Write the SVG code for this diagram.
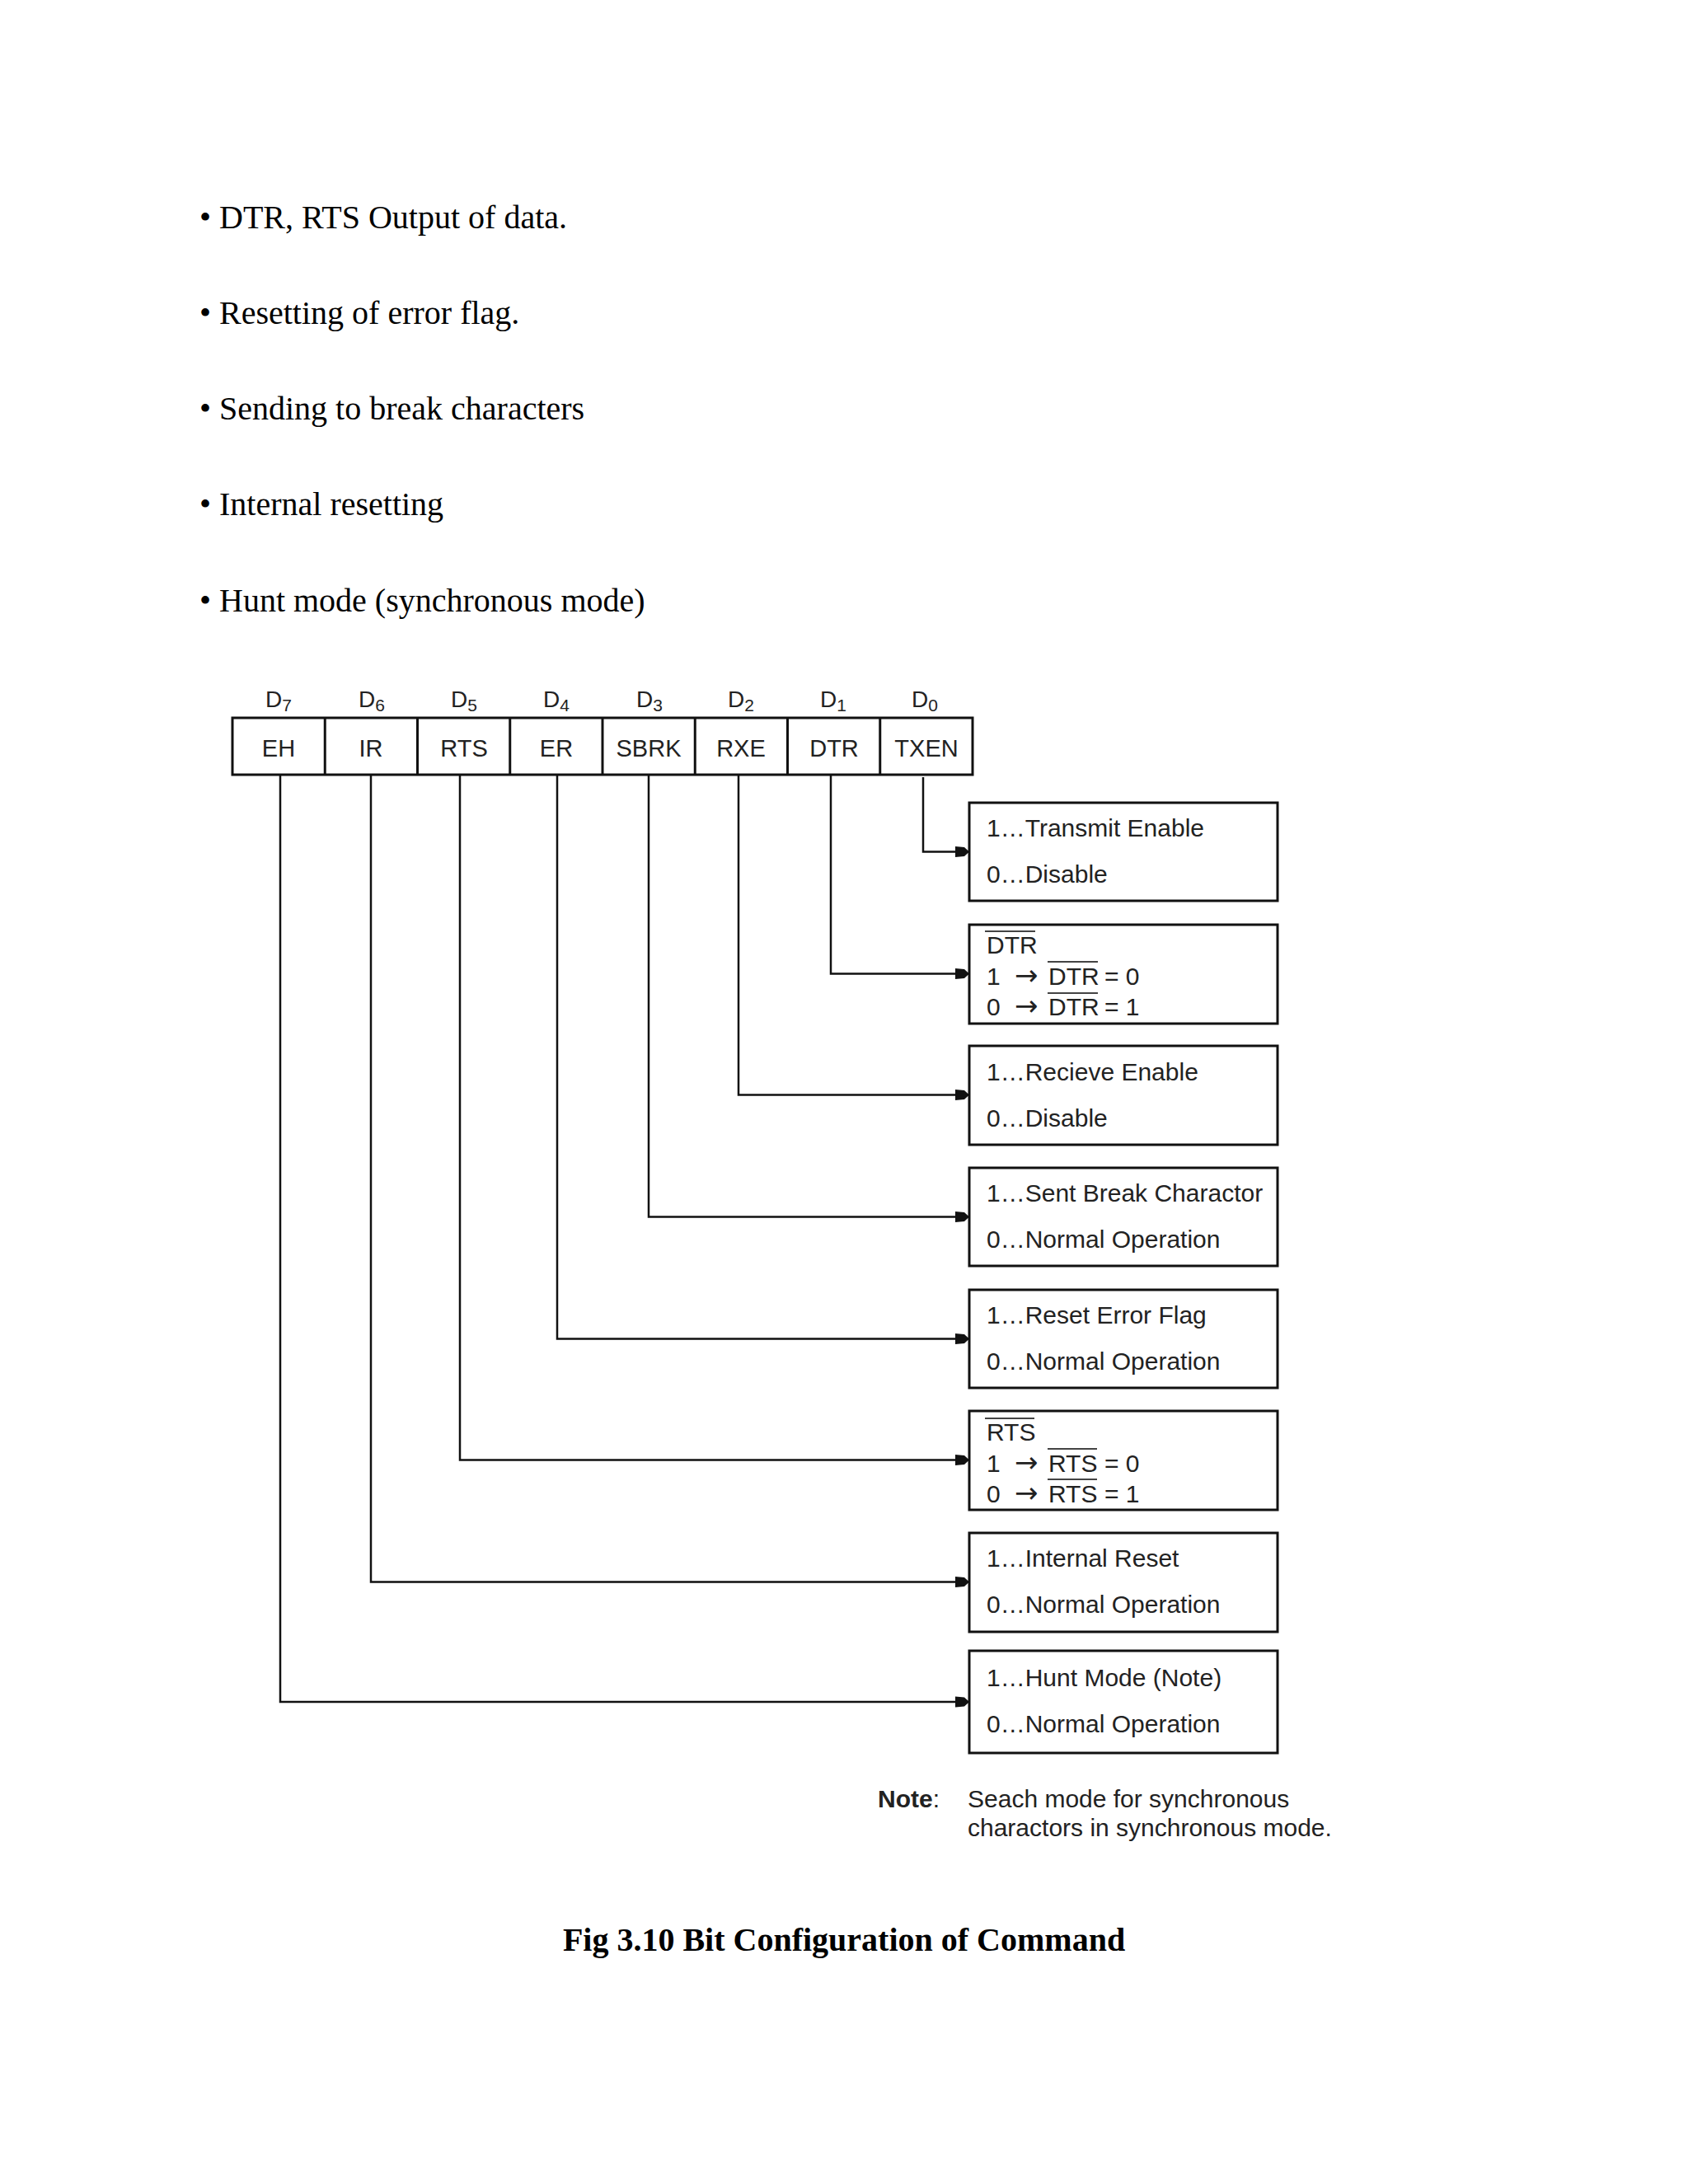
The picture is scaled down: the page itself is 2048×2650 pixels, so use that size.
<svg xmlns="http://www.w3.org/2000/svg" width="2048" height="2650" viewBox="0 0 2048 2650">
<style>
.bul{font-family:"Liberation Serif","Times New Roman",serif;font-size:40px;fill:#000}
.cap{font-family:"Liberation Serif","Times New Roman",serif;font-size:40px;font-weight:bold;fill:#000}
.cell{font-family:"Liberation Sans",Arial,sans-serif;font-size:29px;fill:#222;text-anchor:middle}
.bit{font-family:"Liberation Sans",Arial,sans-serif;font-size:28px;fill:#222;text-anchor:middle}
.sub{font-size:21px}
.bx{fill:#fff;stroke:#111;stroke-width:3}
.t{font-family:"Liberation Sans",Arial,sans-serif;font-size:30px;fill:#222}
.arr{font-family:"DejaVu Sans",sans-serif;font-size:34px}
.ov{stroke:#444;stroke-width:2}
.conn{fill:none;stroke:#111;stroke-width:2.5}
</style>
<defs>
<marker id="ah" markerUnits="userSpaceOnUse" markerWidth="18" markerHeight="14" refX="17" refY="7" orient="auto">
<path d="M0,0.5 L11,1.5 L17,7 L11,12.5 L0,13.5 z" fill="#111"/>
</marker>
</defs>

<g id="bullets">
<text class="bul" x="242" y="277">• DTR, RTS Output of data.</text>
<text class="bul" x="242" y="393">• Resetting of error flag.</text>
<text class="bul" x="242" y="509">• Sending to break characters</text>
<text class="bul" x="242" y="625">• Internal resetting</text>
<text class="bul" x="242" y="742">• Hunt mode (synchronous mode)</text>
</g>

<g id="register">
<rect x="282" y="871" width="898" height="69" fill="#fff" stroke="#111" stroke-width="3"/>
<g stroke="#111" stroke-width="3">
<line x1="394.25" y1="871" x2="394.25" y2="940"/>
<line x1="506.5" y1="871" x2="506.5" y2="940"/>
<line x1="618.75" y1="871" x2="618.75" y2="940"/>
<line x1="731" y1="871" x2="731" y2="940"/>
<line x1="843.25" y1="871" x2="843.25" y2="940"/>
<line x1="955.5" y1="871" x2="955.5" y2="940"/>
<line x1="1067.75" y1="871" x2="1067.75" y2="940"/>
</g>
<text class="cell" x="338" y="918">EH</text>
<text class="cell" x="450" y="918">IR</text>
<text class="cell" x="563" y="918">RTS</text>
<text class="cell" x="675" y="918">ER</text>
<text class="cell" x="787" y="918">SBRK</text>
<text class="cell" x="899" y="918">RXE</text>
<text class="cell" x="1012" y="918">DTR</text>
<text class="cell" x="1124" y="918">TXEN</text>
<text class="bit" x="338" y="858">D<tspan class="sub" dy="5">7</tspan></text>
<text class="bit" x="451" y="858">D<tspan class="sub" dy="5">6</tspan></text>
<text class="bit" x="563" y="858">D<tspan class="sub" dy="5">5</tspan></text>
<text class="bit" x="675" y="858">D<tspan class="sub" dy="5">4</tspan></text>
<text class="bit" x="788" y="858">D<tspan class="sub" dy="5">3</tspan></text>
<text class="bit" x="899" y="858">D<tspan class="sub" dy="5">2</tspan></text>
<text class="bit" x="1011" y="858">D<tspan class="sub" dy="5">1</tspan></text>
<text class="bit" x="1122" y="858">D<tspan class="sub" dy="5">0</tspan></text>
</g>

<g id="connectors">
<polyline class="conn" points="1120,943 1120,1033.5 1176,1033.5" marker-end="url(#ah)"/>
<polyline class="conn" points="1008,940 1008,1181.5 1176,1181.5" marker-end="url(#ah)"/>
<polyline class="conn" points="896,940 896,1328.5 1176,1328.5" marker-end="url(#ah)"/>
<polyline class="conn" points="787,940 787,1476.5 1176,1476.5" marker-end="url(#ah)"/>
<polyline class="conn" points="676,940 676,1624.5 1176,1624.5" marker-end="url(#ah)"/>
<polyline class="conn" points="558,940 558,1771.5 1176,1771.5" marker-end="url(#ah)"/>
<polyline class="conn" points="450,940 450,1919.5 1176,1919.5" marker-end="url(#ah)"/>
<polyline class="conn" points="340,940 340,2065 1176,2065" marker-end="url(#ah)"/>
</g>

<g id="box-txen">
<rect class="bx" x="1176" y="974" width="374" height="119"/>
<text class="t" x="1197" y="1015">1…Transmit Enable</text>
<text class="t" x="1197" y="1071">0…Disable</text>
</g>

<g id="box-dtr">
<rect class="bx" x="1176" y="1122" width="374" height="120"/>
<text class="t" x="1197" y="1157">DTR</text>
<line class="ov" x1="1195" y1="1130" x2="1256" y2="1130"/>
<text class="t" y="1195"><tspan x="1197">1</tspan><tspan class="arr" x="1231">→</tspan><tspan x="1272">DTR</tspan><tspan x="1340">= 0</tspan></text>
<line class="ov" x1="1271" y1="1167" x2="1332" y2="1167"/>
<text class="t" y="1232"><tspan x="1197">0</tspan><tspan class="arr" x="1231">→</tspan><tspan x="1272">DTR</tspan><tspan x="1340">= 1</tspan></text>
<line class="ov" x1="1271" y1="1205" x2="1332" y2="1205"/>
</g>

<g id="box-rxe">
<rect class="bx" x="1176" y="1269" width="374" height="120"/>
<text class="t" x="1197" y="1311">1…Recieve Enable</text>
<text class="t" x="1197" y="1367">0…Disable</text>
</g>

<g id="box-sbrk">
<rect class="bx" x="1176" y="1417" width="374" height="119"/>
<text class="t" x="1197" y="1458">1…Sent Break Charactor</text>
<text class="t" x="1197" y="1514">0…Normal Operation</text>
</g>

<g id="box-er">
<rect class="bx" x="1176" y="1565" width="374" height="119"/>
<text class="t" x="1197" y="1606">1…Reset Error Flag</text>
<text class="t" x="1197" y="1662">0…Normal Operation</text>
</g>

<g id="box-rts">
<rect class="bx" x="1176" y="1712" width="374" height="120"/>
<text class="t" x="1197" y="1748">RTS</text>
<line class="ov" x1="1195" y1="1721" x2="1255" y2="1721"/>
<text class="t" y="1786"><tspan x="1197">1</tspan><tspan class="arr" x="1231">→</tspan><tspan x="1272">RTS</tspan><tspan x="1340">= 0</tspan></text>
<line class="ov" x1="1271" y1="1758" x2="1331" y2="1758"/>
<text class="t" y="1823"><tspan x="1197">0</tspan><tspan class="arr" x="1231">→</tspan><tspan x="1272">RTS</tspan><tspan x="1340">= 1</tspan></text>
<line class="ov" x1="1271" y1="1795" x2="1331" y2="1795"/>
</g>

<g id="box-ir">
<rect class="bx" x="1176" y="1860" width="374" height="120"/>
<text class="t" x="1197" y="1901">1…Internal Reset</text>
<text class="t" x="1197" y="1957">0…Normal Operation</text>
</g>

<g id="box-eh">
<rect class="bx" x="1176" y="2003" width="374" height="124"/>
<text class="t" x="1197" y="2046">1…Hunt Mode (Note)</text>
<text class="t" x="1197" y="2102">0…Normal Operation</text>
</g>

<g id="note">
<text class="t" x="1065" y="2193"><tspan font-weight="bold">Note</tspan>:</text>
<text class="t" x="1174" y="2193">Seach mode for synchronous</text>
<text class="t" x="1174" y="2228">charactors in synchronous mode.</text>
</g>

<g id="caption">
<text class="cap" x="1024" y="2367" text-anchor="middle">Fig 3.10 Bit Configuration of Command</text>
</g>
</svg>
